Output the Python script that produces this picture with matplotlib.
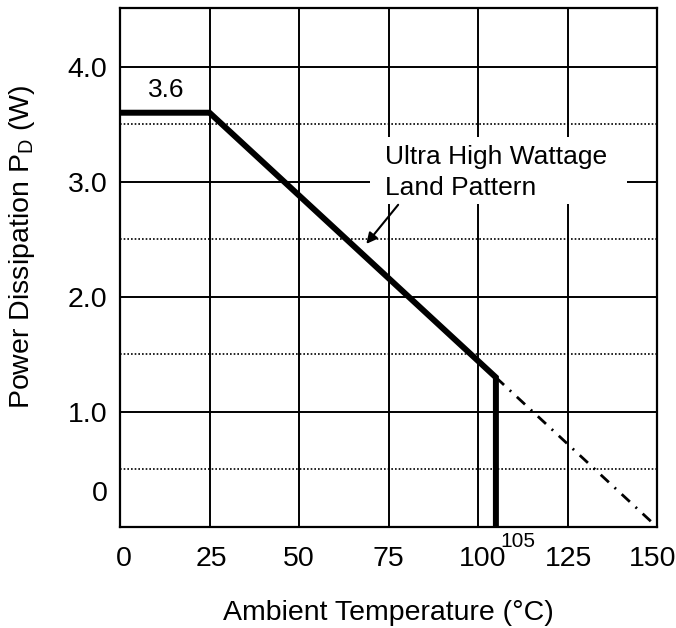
import matplotlib
matplotlib.use("Agg")
import matplotlib.pyplot as plt
from matplotlib.patches import Rectangle
from matplotlib.transforms import ScaledTranslation

plt.rcParams['font.family'] = ['Liberation Sans', 'DejaVu Sans']

# Data
temp_solid = [0, 25, 105, 105]
power_solid = [3.6, 3.6, 1.3, 0.0]
temp_ext = [105, 150]
power_ext = [1.3, 0.0]

x_ticks = [0, 25, 50, 75, 100, 125, 150]
x_tick_labels = ["0", "25", "50", "75", "100", "125", "150"]
y_tick_pos = [0.31, 1.0, 2.0, 3.0, 4.0]
y_tick_labels = ["0", "1.0", "2.0", "3.0", "4.0"]
solid_h = [1.0, 2.0, 3.0, 4.0]
dotted_h = [0.5, 1.5, 2.5, 3.5]
solid_v = [25, 50, 75, 100, 125]

W, H = 676, 628
fig = plt.figure(figsize=(W / 100, H / 100), dpi=100)
ax = fig.add_axes([120 / W, 1 - 527 / H, (657 - 120) / W, (527 - 8) / H])
ax.set_xlim(0, 150)
ax.set_ylim(0, 4.51)

fs = 19
fs_tick = 20.5
ax.set_xticks(x_ticks)
ax.set_xticklabels(x_tick_labels, fontsize=fs_tick)
ax.set_yticks(y_tick_pos)
ax.set_yticklabels(y_tick_labels, fontsize=fs_tick)
ax.tick_params(axis='both', length=0)
ax.tick_params(axis='x', pad=14)
ax.tick_params(axis='y', pad=9)

# small horizontal nudges of x tick labels
offsets_px = [4, 2, 0, 0, 5, 1, -4]
for lab, dx in zip(ax.get_xticklabels(), offsets_px):
    lab.set_transform(lab.get_transform() +
                      ScaledTranslation(dx / 100, 0, fig.dpi_scale_trans))

for s in ax.spines.values():
    s.set_linewidth(1.6)
    s.set_color('black')

for yv in solid_h:
    ax.axhline(yv, color='black', lw=1.4, zorder=1)
for yv in dotted_h:
    ax.axhline(yv, color='black', lw=1.2, ls=(0, (1, 1.2)), zorder=1)
for xv in solid_v:
    ax.axvline(xv, color='black', lw=1.4, zorder=1)

# white box behind annotation
ax.add_patch(Rectangle((69.8, 2.81), 71.8, 0.58, facecolor='white',
                       edgecolor='none', zorder=2))

ax.plot(temp_solid, power_solid, color='black', lw=4.3, zorder=4,
        solid_joinstyle='miter', solid_capstyle='butt')
ax.plot(temp_ext, power_ext, color='black', lw=2.0, zorder=3,
        ls=(0, (4, 2.8, 0.7, 2.8)))

ax.text(74.0, 3.157, "Ultra High Wattage", fontsize=fs, ha='left',
        va='baseline', zorder=5)
ax.text(74.0, 2.887, "Land Pattern", fontsize=fs, ha='left',
        va='baseline', zorder=5)
ax.annotate('', xy=(68.8, 2.46), xytext=(77.7, 2.80),
            arrowprops=dict(arrowstyle='-|>', color='black', lw=1.5,
                            mutation_scale=16, shrinkA=0, shrinkB=0),
            zorder=5)

ax.text(12.8, 3.80, "3.6", fontsize=fs, ha='center', va='center', zorder=5)
ax.text(111, -0.13, "105", fontsize=15, ha='center', va='center',
        clip_on=False)

fig.text(388 / W, 1 - 620 / H, "Ambient Temperature (°C)", fontsize=fs_tick,
         ha='center', va='baseline')
fig.text(22.5 / W, 1 - 247 / H, r"Power Dissipation P$_\mathregular{D}$ (W)",
         fontsize=fs_tick, ha='center', va='center', rotation=90)

fig.savefig("out.png", dpi=100)
